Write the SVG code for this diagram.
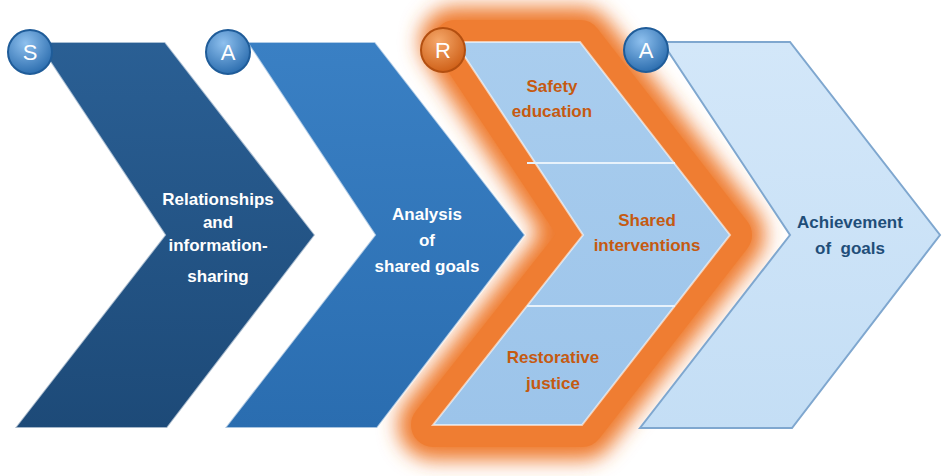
<svg xmlns="http://www.w3.org/2000/svg" width="946" height="476" viewBox="0 0 946 476">
<defs>
<filter id="blur" x="-20%" y="-20%" width="140%" height="140%"><feGaussianBlur stdDeviation="10"/></filter>
<linearGradient id="g1" x1="0" y1="0" x2="0" y2="1"><stop offset="0" stop-color="#2a5f94"/><stop offset="1" stop-color="#1d4a78"/></linearGradient>
<linearGradient id="g2" x1="0" y1="0" x2="0" y2="1"><stop offset="0" stop-color="#3a80c4"/><stop offset="1" stop-color="#2a6db0"/></linearGradient>
<linearGradient id="g3" x1="0" y1="0" x2="0" y2="1"><stop offset="0" stop-color="#a9cdee"/><stop offset="1" stop-color="#9cc4ea"/></linearGradient>
<linearGradient id="g4" x1="0" y1="0" x2="0" y2="1"><stop offset="0" stop-color="#d3e7f9"/><stop offset="1" stop-color="#c4def5"/></linearGradient>
<radialGradient id="cb" cx="0.4" cy="0.3" r="0.7"><stop offset="0" stop-color="#8ec0ee"/><stop offset="1" stop-color="#2e6fb0"/></radialGradient>
<radialGradient id="co" cx="0.4" cy="0.3" r="0.7"><stop offset="0" stop-color="#f5a86a"/><stop offset="1" stop-color="#d0621a"/></radialGradient>
</defs>
<style>
.ch{stroke:#ffffff;stroke-opacity:0.6;stroke-width:2}
.t{font-family:"Liberation Sans",Arial,sans-serif;font-weight:bold;font-size:17px;text-anchor:middle}
.w{fill:#ffffff}.o{fill:#c55a11}.b{fill:#1f4e79}
.cl{font-family:"Liberation Sans",Arial,sans-serif;font-size:22px;fill:#fff;text-anchor:middle}
</style>
<g id="glow"><path d="M455,42 L580,42 L730,235 L582,425 L433,425 L583,235 Z" fill="none" stroke="#ee7a2e" stroke-width="70" stroke-linejoin="round" filter="url(#blur)"/>
<path d="M455,42 L580,42 L730,235 L582,425 L433,425 L583,235 Z" fill="#ef7d32" stroke="#ef7d32" stroke-width="44" stroke-linejoin="round"/></g>
<g id="n1"><path class="ch" d="M37,42 L165,42 L315,235 L167,428 L15,428 L165,235 Z" fill="url(#g1)"/>
<text class="t w" x="218" y="205">Relationships</text><text class="t w" x="218" y="228">and</text><text class="t w" x="218" y="251">information-</text><text class="t w" x="218" y="282">sharing</text></g>
<g id="n2"><path class="ch" d="M247,42 L375,42 L525,235 L377,428 L225,428 L375,235 Z" fill="url(#g2)"/>
<text class="t w" x="427" y="220">Analysis</text><text class="t w" x="427" y="246">of</text><text class="t w" x="427" y="272">shared goals</text></g>
<g id="n3"><path class="ch" d="M455,42 L580,42 L730,235 L582,425 L433,425 L583,235 Z" fill="url(#g3)"/>
<line x1="527" y1="163" x2="675" y2="163" stroke="#e8f2fb" stroke-width="2"/>
<line x1="527" y1="306" x2="675" y2="306" stroke="#e8f2fb" stroke-width="2"/>
<text class="t o" x="552" y="92">Safety</text><text class="t o" x="552" y="117">education</text>
<text class="t o" x="647" y="226">Shared</text><text class="t o" x="647" y="251">interventions</text>
<text class="t o" x="553" y="363">Restorative</text><text class="t o" x="553" y="389">justice</text></g>
<g id="n4"><path d="M662,42 L790,42 L940,235 L792,428 L640,428 L790,235 Z" fill="url(#g4)" stroke="#7fa7cf" stroke-width="2"/>
<text class="t b" x="850" y="228">Achievement</text><text class="t b" x="850" y="254" xml:space="preserve">of  goals</text></g>
<g id="c1"><circle cx="30" cy="52" r="22" fill="url(#cb)" stroke="#1f5c99" stroke-width="2"/><text class="cl" x="30" y="60">S</text></g>
<g id="c2"><circle cx="228" cy="52" r="22" fill="url(#cb)" stroke="#1f5c99" stroke-width="2"/><text class="cl" x="228" y="60">A</text></g>
<g id="c3"><circle cx="443" cy="50" r="22" fill="url(#co)" stroke="#b34f10" stroke-width="2"/><text class="cl" x="443" y="58">R</text></g>
<g id="c4"><circle cx="646" cy="50" r="22" fill="url(#cb)" stroke="#1f5c99" stroke-width="2"/><text class="cl" x="646" y="58">A</text></g>
<g id="connectors"/>
</svg>
